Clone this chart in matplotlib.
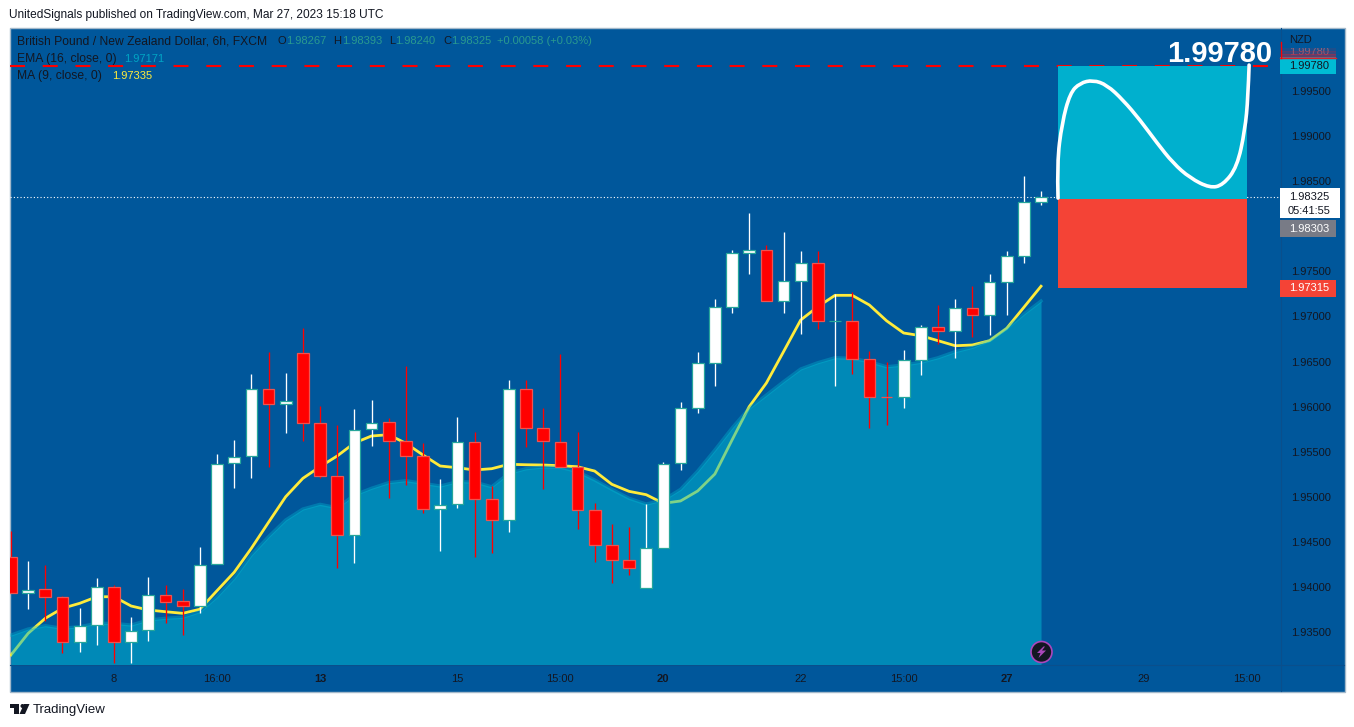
import matplotlib
matplotlib.use("Agg")
import matplotlib.pyplot as plt
from matplotlib.patches import Rectangle, Circle, Polygon, PathPatch
from matplotlib.path import Path

plt.rcParams['font.family'] = ['Liberation Sans', 'DejaVu Sans']

# candles, 6h GBP/NZD
opens = [1.94328, 1.93929, 1.93973, 1.93885, 1.93386, 1.93577, 1.94002, 1.93386, 1.93519, 1.93913,
         1.93840, 1.93785, 1.94251, 1.95371, 1.95448, 1.96198, 1.96025, 1.96591, 1.95814, 1.95227,
         1.94572, 1.95748, 1.95826, 1.95615, 1.95448, 1.94861, 1.94919, 1.95610, 1.94972, 1.94739,
         1.96198, 1.95759, 1.95610, 1.95330, 1.94850, 1.94461, 1.94295, 1.93984, 1.94428, 1.95371,
         1.95981, 1.96480, 1.97101, 1.97700, 1.97733, 1.97168, 1.97389, 1.97589, 1.96946, 1.96946,
         1.96524, 1.96110, 1.96110, 1.96513, 1.96879, 1.96842, 1.97090, 1.97019, 1.97378, 1.97667,
         1.98267]
closes = [1.93929, 1.93971, 1.93885, 1.93386, 1.93570, 1.94002, 1.93386, 1.93514, 1.93913, 1.93836,
          1.93785, 1.94246, 1.95366, 1.95444, 1.96198, 1.96025, 1.96059, 1.95814, 1.95227, 1.94572,
          1.95744, 1.95821, 1.95615, 1.95448, 1.94861, 1.94912, 1.95610, 1.94972, 1.94739, 1.96198,
          1.95759, 1.95615, 1.95330, 1.94850, 1.94461, 1.94295, 1.94206, 1.94428, 1.95366, 1.95981,
          1.96480, 1.97101, 1.97700, 1.97733, 1.97168, 1.97389, 1.97589, 1.96946, 1.96946, 1.96524,
          1.96110, 1.96109, 1.96513, 1.96879, 1.96842, 1.97090, 1.97019, 1.97378, 1.97667, 1.98266,
          1.98325]
highs = [1.94620, 1.94287, 1.94240, 1.93899, 1.93766, 1.94099, 1.94021, 1.93666, 1.94110, 1.94021,
         1.93977, 1.94442, 1.95474, 1.95629, 1.96361, 1.96605, 1.96372, 1.96871, 1.96006, 1.95796,
         1.95973, 1.96073, 1.95870, 1.96450, 1.95593, 1.95197, 1.95884, 1.95718, 1.95119, 1.96295,
         1.96295, 1.95984, 1.96583, 1.95718, 1.94927, 1.94698, 1.94664, 1.94919, 1.95385, 1.96051,
         1.96605, 1.97190, 1.97737, 1.98147, 1.97792, 1.97936, 1.97725, 1.97725, 1.97249, 1.97271,
         1.96616, 1.96498, 1.96627, 1.96905, 1.97123, 1.97193, 1.97337, 1.97470, 1.97725, 1.98557,
         1.98393]
lows = [1.93929, 1.93758, 1.93622, 1.93270, 1.93281, 1.93359, 1.93156, 1.93156, 1.93400, 1.93600,
        1.93466, 1.93711, 1.94251, 1.95100, 1.95211, 1.95333, 1.95710, 1.95615, 1.95211, 1.94213,
        1.94262, 1.95566, 1.94989, 1.95130, 1.94823, 1.94401, 1.94878, 1.94335, 1.94379, 1.94612,
        1.95548, 1.95089, 1.95330, 1.94642, 1.94279, 1.94040, 1.94132, 1.93984, 1.94428, 1.95300,
        1.95932, 1.96231, 1.97038, 1.97470, 1.97168, 1.97041, 1.96808, 1.96857, 1.96231, 1.96365,
        1.95766, 1.95796, 1.95987, 1.96353, 1.96697, 1.96542, 1.96772, 1.96794, 1.97019, 1.97596,
        1.98240]
ma9 = [1.93245, 1.93485, 1.93652, 1.93763, 1.93818, 1.93891, 1.93891, 1.93788, 1.93744, 1.93725,
       1.93707, 1.93752, 1.93958, 1.94162, 1.94428, 1.94716, 1.95000, 1.95204, 1.95333, 1.95452,
       1.95596, 1.95674, 1.95688, 1.95593, 1.95463, 1.95341, 1.95322, 1.95297, 1.95311, 1.95360,
       1.95355, 1.95352, 1.95344, 1.95333, 1.95285, 1.95138, 1.95060, 1.95023, 1.94927, 1.94953,
       1.95064, 1.95252, 1.95629, 1.95999, 1.96261, 1.96609, 1.96960, 1.97108, 1.97234, 1.97234,
       1.97127, 1.96952, 1.96816, 1.96786, 1.96731, 1.96675, 1.96683, 1.96731, 1.96868, 1.97101,
       1.97335]
ema16 = [1.93466, 1.93533, 1.93570, 1.93541, 1.93559, 1.93596, 1.93596, 1.93577, 1.93633, 1.93652,
         1.93663, 1.93725, 1.93891, 1.94095, 1.94354, 1.94557, 1.94742, 1.94864, 1.94916, 1.94878,
         1.95019, 1.95094, 1.95156, 1.95178, 1.95149, 1.95119, 1.95167, 1.95163, 1.95111, 1.95260,
         1.95311, 1.95330, 1.95327, 1.95278, 1.95186, 1.95082, 1.94983, 1.94919, 1.94964, 1.95082,
         1.95285, 1.95518, 1.95762, 1.95981, 1.96128, 1.96276, 1.96417, 1.96487, 1.96542, 1.96535,
         1.96498, 1.96442, 1.96461, 1.96491, 1.96542, 1.96609, 1.96657, 1.96731, 1.96868, 1.97027,
         1.97171]

# position tool and the freehand curve on it
target = 1.99780
entry = 1.98303
stop = 1.97315
tool_x = [61.0, 72.0]
curve_x = [60.99, 60.93, 61.22, 61.69, 62.27, 63.03, 63.84, 64.78, 65.77, 66.76,
           67.69, 68.68, 69.84, 70.60, 71.42, 71.88, 72.06, 72.12]
curve_y = [1.98313, 1.98701, 1.99145, 1.99478, 1.99589, 1.99622, 1.99567, 1.99400, 1.99178, 1.98923,
           1.98701, 1.98535, 1.98424, 1.98457, 1.98657, 1.99067, 1.99433, 1.99788]

price_ticks = [1.935, 1.94, 1.945, 1.95, 1.955, 1.96, 1.965, 1.97, 1.975, 1.98, 1.985, 1.99, 1.995]
time_ticks = [6, 12, 18, 26, 32, 38, 46, 52, 58, 66, 72]
time_labels = ['8', '16:00', '13', '15', '15:00', '20', '22', '15:00', '27', '29', '15:00']
bold_labels = ['13', '20', '27']

BG = '#00579b'
DARK = '#131722'
W, H = 1354, 727

fig = plt.figure(figsize=(W / 100, H / 100), dpi=100, facecolor='white')

back = fig.add_axes([0, 0, 1, 1], zorder=0)
back.set_xlim(0, W)
back.set_ylim(H, 0)
back.axis('off')
back.add_patch(Rectangle((9.5, 27.5), 1335, 664, fc=BG, ec='#a3b8ca', lw=1))
back.plot([1280.5, 1280.5], [28, 691], color='#0a4f8c', lw=0.8)
back.plot([10, 1344], [664.5, 664.5], color='#0a4f8c', lw=0.8)

ax = fig.add_axes([10 / W, 1 - 664 / H, 1270 / W, 636 / H], zorder=1)
ax.set_facecolor('none')
ax.set_xlim(-0.058, 73.92)
ax.set_ylim(1.93145, 2.00199)
PX = (2.00199 - 1.93145) / 636

for s in ax.spines.values():
    s.set_visible(False)

ax.yaxis.tick_right()
ax.set_yticks(price_ticks)
ax.set_yticklabels(['%.5f' % p for p in price_ticks])
ax.set_xticks(time_ticks)
ax.set_xticklabels(time_labels)
ax.tick_params(axis='both', length=0, labelcolor=DARK, labelsize=8)
ax.tick_params(axis='y', pad=8)
ax.tick_params(axis='x', pad=7)
for lab in ax.get_xticklabels():
    if lab.get_text() in bold_labels:
        lab.set_fontweight('bold')

x = list(range(len(closes)))

# MA sits under the EMA area, that is what turns it green where they cross
ax.plot(x, ma9, color='#ffeb3b', lw=2, zorder=2, solid_joinstyle='round')
ax.fill_between(x, 1.9, ema16, color='#00bcd4', alpha=0.5, lw=0, zorder=3)
ax.plot(x, ema16, color='#00bcd4', alpha=0.35, lw=2.4, zorder=3)

for i in x:
    up = closes[i] >= opens[i]
    wick = 'white' if up else '#ff0000'
    ax.plot([i, i], [lows[i], highs[i]], color=wick, lw=0.95, zorder=4, snap=True, solid_capstyle='butt')
    ax.bar(i, abs(closes[i] - opens[i]), bottom=min(opens[i], closes[i]), width=0.68,
           color='white' if up else '#ff0000',
           edgecolor='#26a69a' if up else '#ef5350', lw=0.9, zorder=5)

ax.plot([-0.058, 74], [target, target], color='#ff0000', lw=1.5, dashes=(7.2, 8.5), zorder=2, snap=True)
ax.axhline(closes[-1], color='white', lw=0.8, dashes=(1, 2), zorder=2)

ax.add_patch(Rectangle((tool_x[0], entry), tool_x[1] - tool_x[0], target - entry, fc='#00b0ce', lw=0, zorder=6))
ax.add_patch(Rectangle((tool_x[0], stop), tool_x[1] - tool_x[0], entry - stop, fc='#f44336', lw=0, zorder=6))

# smooth through the read points, quadratic segments between midpoints
verts = [(curve_x[0], curve_y[0])]
codes = [Path.MOVETO]
for k in range(1, len(curve_x) - 1):
    verts.append((curve_x[k], curve_y[k]))
    codes.append(Path.CURVE3)
    if k < len(curve_x) - 2:
        verts.append(((curve_x[k] + curve_x[k + 1]) / 2, (curve_y[k] + curve_y[k + 1]) / 2))
    else:
        verts.append((curve_x[-1], curve_y[-1]))
    codes.append(Path.CURVE3)
ax.add_patch(PathPatch(Path(verts, codes), fc='none', ec='white', lw=2.6, zorder=7, capstyle='round'))


def price_label(price, text, fc, tc, shift=0, up=8.5, down=8.5, width=56):
    tr = ax.get_yaxis_transform()
    c = price + shift
    ax.add_patch(Rectangle((1, c - down * PX), width / 1270, (up + down) * PX, fc=fc, lw=0,
                           transform=tr, clip_on=False, zorder=8))
    ax.text(1 + 29 / 1270, c + (up - down) / 2 * PX, text, color=tc, fontsize=8, ha='center', va='center',
            transform=tr, zorder=9)


price_label(target, '1.99780', '#00bcd4', DARK)
# entry label gets pushed down by the current price box
price_label(entry, '1.98303', '#787b86', 'white', shift=-30 * PX)
price_label(stop, '1.97315', '#f44336', 'white')

# current price box has the countdown in it
tr = ax.get_yaxis_transform()
ax.add_patch(Rectangle((1, closes[-1] - 21.5 * PX), 60 / 1270, 30 * PX, fc='white', lw=0,
                       transform=tr, clip_on=False, zorder=8))
ax.text(1 + 29 / 1270, closes[-1], '%.5f' % closes[-1], color=DARK, fontsize=8, ha='center', va='center',
        transform=tr, zorder=9)
ax.text(1 + 29 / 1270, closes[-1] - 14.5 * PX, '05:41:55', color=DARK, fontsize=8, ha='center', va='center',
        transform=tr, zorder=9)

ax.text(73.46, 1.99912, '%.5f' % target, color='white', fontsize=21, fontweight='bold', ha='right', va='center', zorder=9)

# labels and decoration, pixel coordinates
top = fig.add_axes([0, 0, 1, 1], zorder=2)
top.set_xlim(0, W)
top.set_ylim(H, 0)
top.axis('off')

top.text(9, 15, 'UnitedSignals published on TradingView.com, Mar 27, 2023 15:18 UTC', color=DARK, fontsize=8.6, va='center')

# squeezed label behind NZD, fading out upwards
top.text(1309, 52, '1.99780', color='#8a6f86', fontsize=8, ha='center', va='center', zorder=1)
top.add_patch(Rectangle((1281, 40), 56, 8, fc=BG, lw=0, zorder=2))
for y0, a in [(48, 0.15), (51, 0.3), (54, 0.5)]:
    top.add_patch(Rectangle((1281, y0), 55, 4, fc='#c0263c', alpha=a, lw=0, zorder=2))
top.plot([1280, 1336], [57.5, 57.5], color='#d9202c', lw=1, zorder=3)
top.plot([1280.5, 1280.5], [42, 58], color='#ff0000', lw=1, zorder=3)
top.text(1301, 40, 'NZD', color=DARK, fontsize=8, ha='center', va='center', zorder=4)

LEG = '#2a9a8f'
top.text(17, 41, 'British Pound / New Zealand Dollar, 6h, FXCM', color=DARK, fontsize=8.7, va='center')
for name, xn, val, xv in [('O', 277, '1.98267', 286), ('H', 333, '1.98393', 342),
                          ('L', 389, '1.98240', 395), ('C', 443, '1.98325', 451)]:
    top.text(xn, 41, name, color=DARK, fontsize=8, va='center')
    top.text(xv, 41, val, color=LEG, fontsize=8, va='center')
top.text(497, 41, '+0.00058 (+0.03%)', color=LEG, fontsize=8, va='center')
top.text(17, 59, 'EMA (16, close, 0)', color=DARK, fontsize=8.7, va='center')
top.text(124, 59, '1.97171', color='#00a5c4', fontsize=8, va='center')
top.text(17, 76, 'MA (9, close, 0)', color=DARK, fontsize=8.7, va='center')
top.text(112, 76, '1.97335', color='#ffeb3b', fontsize=8, va='center')

# bolt badge
top.add_patch(Circle((1041.5, 652), 10.5, fc=DARK, ec='#ab47bc', lw=1.2))
top.add_patch(Polygon([(1043.5, 646.5), (1037, 653), (1040.5, 653), (1038.5, 658), (1046, 650.5), (1042, 650.5), (1045, 646.5)],
                      fc='#ab47bc', lw=0))

# TradingView logo
top.add_patch(Polygon([(10, 704), (19, 704), (19, 714), (14, 714), (14, 708), (10, 708)], fc=DARK, lw=0))
top.add_patch(Circle((22.5, 706), 2, fc=DARK, lw=0))
top.add_patch(Polygon([(24, 704), (29.5, 704), (25, 714), (19.5, 714)], fc=DARK, lw=0))
top.text(33, 709.5, 'TradingView', color=DARK, fontsize=9.5, va='center')

fig.savefig('out.png', dpi=100)
